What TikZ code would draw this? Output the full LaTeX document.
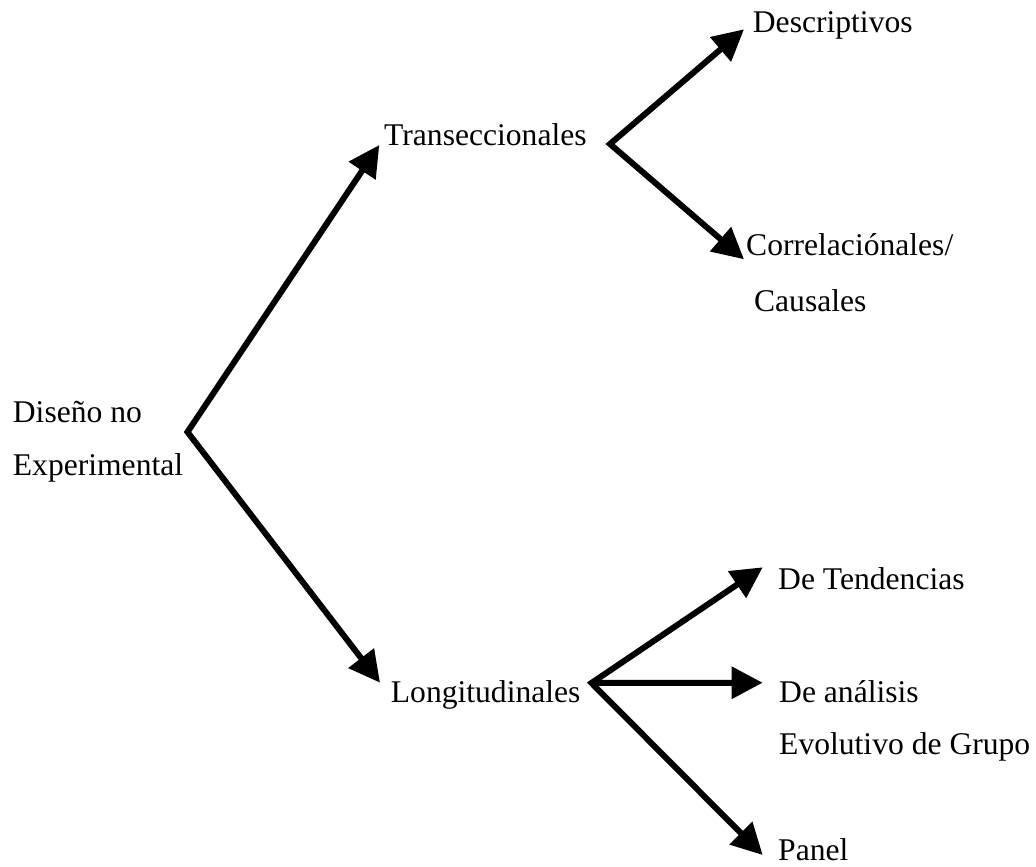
\documentclass[tikz,border=0pt]{standalone}
\usepackage{fontspec}
\setmainfont{Liberation Serif}
\usetikzlibrary{arrows.meta,calc}
\begin{document}
\begin{tikzpicture}[x=1pt,y=-1pt,
  lbl/.style={inner sep=0pt, anchor=base west, align=left,
    font=\fontsize{31.6}{#1}\selectfont},
  lbl/.default=36,
  tip/.tip={Triangle[length=31pt,width=31pt]},
  link/.style={line width=6pt, line join=miter, miter limit=10}]
\useasboundingbox (0,0) rectangle (1036,867);

% labels (the base of a two-line label is its second line)
\node[lbl=53] (dis)   at (12.7,475)  {Diseño no\\Experimental};
\node[lbl]    (trans) at (384,145)   {Transeccionales};
\node[lbl]    (desc)  at (752.7,33)  {Descriptivos};
\node[lbl=56] (corr)  at (746,311)   {Correlaciónales/\\\hspace*{0.25em}Causales};
\node[lbl]    (long)  at (390.7,702) {Longitudinales};
\node[lbl]    (tend)  at (778,589)   {De Tendencias};
\node[lbl=52] (anal)  at (779,754)   {De análisis\\Evolutivo de Grupo};
\node[lbl]    (panel) at (778,860)   {Panel};

% branching points
\coordinate (j1) at (187.5,432);
\coordinate (j2) at (610,144);
\coordinate (j3) at (591.5,683);

% connectors
\draw[link, tip-tip] ($(trans.base west)+(-4.7,0)$) -- (j1)
  -- ($(long.base west)+(-10.7,-19.3)$);
\draw[link, tip-tip] ($(desc.base west)+(-8.7,-3.7)$) -- (j2)
  -- ($(corr.base west)+(-2,-51.7)$);
\draw[link, tip-tip] ($(tend.base west)+(-15.3,-21.7)$) -- (j3)
  -- ($(panel.base west)+(-15.3,-5)$);
\draw[link, -tip] (j3) -- ($(anal.base west)+(-16.3,-71.3)$);
\end{tikzpicture}
\end{document}
